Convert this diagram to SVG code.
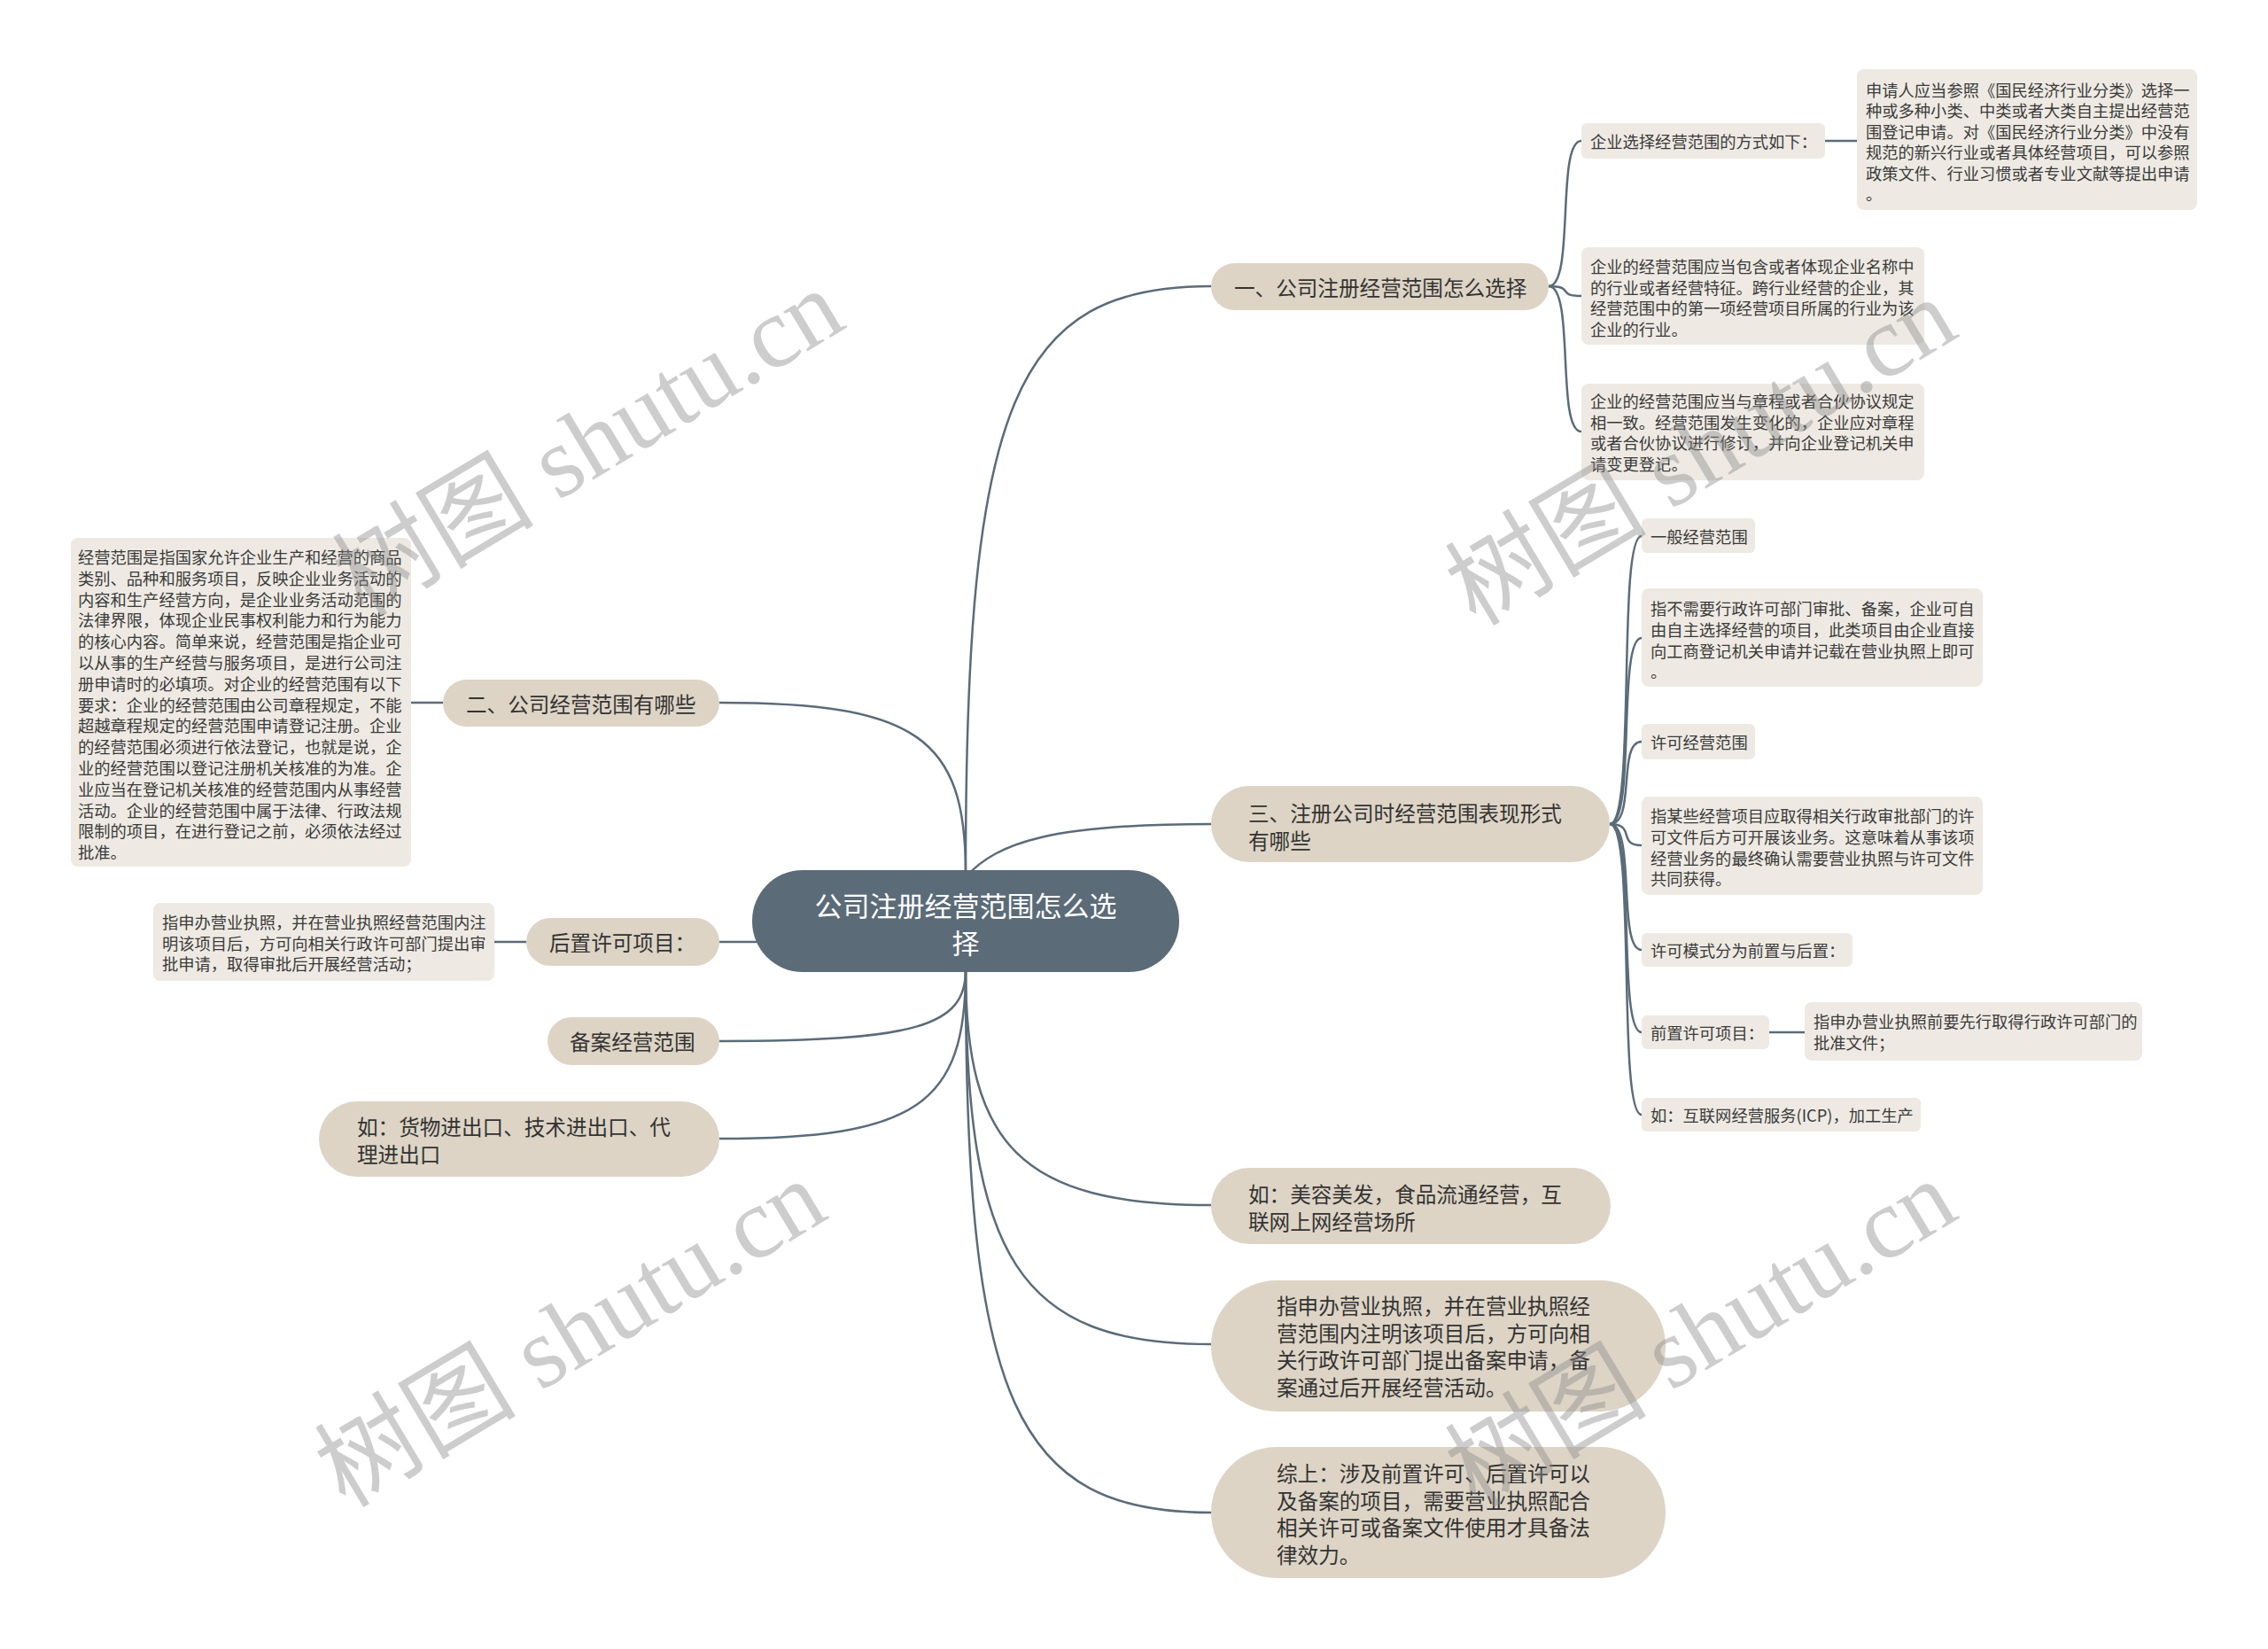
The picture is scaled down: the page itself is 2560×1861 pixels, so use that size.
<svg xmlns="http://www.w3.org/2000/svg" width="2560" height="1861" viewBox="0 0 2560 1861">
<style>
text { font-family: "Noto Sans CJK SC", "Liberation Sans", sans-serif; dominant-baseline: central; }
.l1 { fill: #ddd4c5; }
.l2 { fill: #eeeae3; }
.c0 { fill: #5b6b78; }
.t0 { font-size: 31px; fill: #ffffff; }
.t1 { font-size: 23.6px; fill: #333333; }
.t2 { font-size: 18.3px; fill: #3a3a3a; }
.conn path { fill: none; stroke: #5b6b78; stroke-width: 2.5; }
.wm { font-family: "Liberation Serif", "Noto Sans CJK SC", serif; font-size: 114px; fill: #8a8a8a; opacity: 0.42; }
</style>
<rect x="0" y="0" width="2560" height="1861" fill="#ffffff"/>

<g id="connectors" class="conn">
  <path d="M1090 985 C1090 455 1145 323 1367 323"/>
  <path d="M1090 990 C1125 950 1190 930 1367 930"/>
  <path d="M1090 1095 C1090 1290 1150 1360 1367 1360"/>
  <path d="M1090 1095 C1090 1420 1150 1517 1367 1517"/>
  <path d="M1090 1095 C1090 1580 1145 1707 1367 1707"/>
  <path d="M1090 985 C1090 832 1034 793 812 793"/>
  <path d="M812 1063 L870 1063"/>
  <path d="M1090 1095 C1090 1158 1034 1175 812 1175"/>
  <path d="M1090 1095 C1090 1247 1034 1285 812 1285"/>
  <path d="M1748 323 C1778 323 1756 159 1785 159"/>
  <path d="M1748 323 C1778 323 1756 334 1785 334"/>
  <path d="M1748 323 C1778 323 1756 487 1785 487"/>
  <path d="M2060 159 L2096 159"/>
  <path d="M1817 930 C1847 930 1825 605 1853 605"/>
  <path d="M1817 930 C1847 930 1825 720 1853 720"/>
  <path d="M1817 930 C1847 930 1825 837 1853 837"/>
  <path d="M1817 930 C1847 930 1825 954 1853 954"/>
  <path d="M1817 930 C1847 930 1825 1072 1853 1072"/>
  <path d="M1817 930 C1847 930 1825 1165 1853 1165"/>
  <path d="M1817 930 C1847 930 1825 1258 1853 1258"/>
  <path d="M1997 1165 L2037 1165"/>
  <path d="M464 793 L500 793"/>
  <path d="M558 1063 L594 1063"/>
</g>

<g id="root">
  <rect class="c0" x="849" y="982" width="482" height="115" rx="57"/>
  <text class="t0" x="1090" y="1020" text-anchor="middle">公司注册经营范围怎么选</text>
  <text class="t0" x="1090" y="1062" text-anchor="middle">择</text>
</g>

<g id="n1">
  <rect class="l1" x="1367" y="297" width="381" height="53" rx="26.5"/>
  <text class="t1" x="1393" y="323.5">一、公司注册经营范围怎么选择</text>
</g>
<g id="n1a">
  <rect class="l2" x="1785" y="139" width="275" height="40" rx="6"/>
  <text class="t2" x="1795" y="159">企业选择经营范围的方式如下：</text>
</g>
<g id="n1a1">
  <rect class="l2" x="2096" y="78" width="384" height="159" rx="8"/>
  <text class="t2" x="2106" y="101">申请人应当参照《国民经济行业分类》选择一</text>
  <text class="t2" x="2106" y="124.4">种或多种小类、中类或者大类自主提出经营范</text>
  <text class="t2" x="2106" y="147.8">围登记申请。对《国民经济行业分类》中没有</text>
  <text class="t2" x="2106" y="171.2">规范的新兴行业或者具体经营项目，可以参照</text>
  <text class="t2" x="2106" y="194.6">政策文件、行业习惯或者专业文献等提出申请</text>
  <text class="t2" x="2106" y="218">。</text>
</g>
<g id="n1b">
  <rect class="l2" x="1785" y="279" width="387" height="110" rx="8"/>
  <text class="t2" x="1795" y="300">企业的经营范围应当包含或者体现企业名称中</text>
  <text class="t2" x="1795" y="323.5">的行业或者经营特征。跨行业经营的企业，其</text>
  <text class="t2" x="1795" y="347">经营范围中的第一项经营项目所属的行业为该</text>
  <text class="t2" x="1795" y="370.5">企业的行业。</text>
</g>
<g id="n1c">
  <rect class="l2" x="1785" y="433" width="387" height="109" rx="8"/>
  <text class="t2" x="1795" y="452">企业的经营范围应当与章程或者合伙协议规定</text>
  <text class="t2" x="1795" y="475.5">相一致。经营范围发生变化的，企业应对章程</text>
  <text class="t2" x="1795" y="499">或者合伙协议进行修订，并向企业登记机关申</text>
  <text class="t2" x="1795" y="522.5">请变更登记。</text>
</g>

<g id="n3">
  <rect class="l1" x="1367" y="887" width="450" height="86" rx="43"/>
  <text class="t1" x="1409" y="917">三、注册公司时经营范围表现形式</text>
  <text class="t1" x="1409" y="948">有哪些</text>
</g>
<g id="n3a">
  <rect class="l2" x="1853" y="585" width="128" height="39" rx="6"/>
  <text class="t2" x="1863" y="605">一般经营范围</text>
</g>
<g id="n3b">
  <rect class="l2" x="1853" y="664" width="385" height="111" rx="8"/>
  <text class="t2" x="1863" y="686">指不需要行政许可部门审批、备案，企业可自</text>
  <text class="t2" x="1863" y="710">由自主选择经营的项目，此类项目由企业直接</text>
  <text class="t2" x="1863" y="733.5">向工商登记机关申请并记载在营业执照上即可</text>
  <text class="t2" x="1863" y="757">。</text>
</g>
<g id="n3c">
  <rect class="l2" x="1853" y="817" width="128" height="40" rx="6"/>
  <text class="t2" x="1863" y="837">许可经营范围</text>
</g>
<g id="n3d">
  <rect class="l2" x="1853" y="899" width="385" height="111" rx="8"/>
  <text class="t2" x="1863" y="920">指某些经营项目应取得相关行政审批部门的许</text>
  <text class="t2" x="1863" y="944">可文件后方可开展该业务。这意味着从事该项</text>
  <text class="t2" x="1863" y="967.5">经营业务的最终确认需要营业执照与许可文件</text>
  <text class="t2" x="1863" y="991">共同获得。</text>
</g>
<g id="n3e">
  <rect class="l2" x="1853" y="1053" width="238" height="38" rx="6"/>
  <text class="t2" x="1863" y="1072">许可模式分为前置与后置：</text>
</g>
<g id="n3f">
  <rect class="l2" x="1853" y="1146" width="144" height="38" rx="6"/>
  <text class="t2" x="1863" y="1165">前置许可项目：</text>
</g>
<g id="n3f1">
  <rect class="l2" x="2037" y="1131" width="381" height="66" rx="8"/>
  <text class="t2" x="2047" y="1152">指申办营业执照前要先行取得行政许可部门的</text>
  <text class="t2" x="2047" y="1176">批准文件；</text>
</g>
<g id="n3g">
  <rect class="l2" x="1853" y="1239" width="315" height="38" rx="6"/>
  <text class="t2" x="1863" y="1258">如：互联网经营服务(ICP)，加工生产</text>
</g>

<g id="n4">
  <rect class="l1" x="1367" y="1318" width="451" height="86" rx="43"/>
  <text class="t1" x="1409" y="1347">如：美容美发，食品流通经营，互</text>
  <text class="t1" x="1409" y="1378">联网上网经营场所</text>
</g>
<g id="n5">
  <rect class="l1" x="1367" y="1445" width="513" height="148" rx="74"/>
  <text class="t1" x="1441" y="1473">指申办营业执照，并在营业执照经</text>
  <text class="t1" x="1441" y="1503.5">营范围内注明该项目后，方可向相</text>
  <text class="t1" x="1441" y="1534">关行政许可部门提出备案申请，备</text>
  <text class="t1" x="1441" y="1564.5">案通过后开展经营活动。</text>
</g>
<g id="n6">
  <rect class="l1" x="1367" y="1633" width="513" height="148" rx="74"/>
  <text class="t1" x="1441" y="1662">综上：涉及前置许可、后置许可以</text>
  <text class="t1" x="1441" y="1692.5">及备案的项目，需要营业执照配合</text>
  <text class="t1" x="1441" y="1723">相关许可或备案文件使用才具备法</text>
  <text class="t1" x="1441" y="1753.5">律效力。</text>
</g>

<g id="n2">
  <rect class="l1" x="500" y="767" width="312" height="53" rx="26.5"/>
  <text class="t1" x="526" y="793.5">二、公司经营范围有哪些</text>
</g>
<g id="n2a">
  <rect class="l2" x="80" y="607" width="384" height="371" rx="8"/>
  <text class="t2" x="88" y="628">经营范围是指国家允许企业生产和经营的商品</text>
  <text class="t2" x="88" y="651.8">类别、品种和服务项目，反映企业业务活动的</text>
  <text class="t2" x="88" y="675.6">内容和生产经营方向，是企业业务活动范围的</text>
  <text class="t2" x="88" y="699.4">法律界限，体现企业民事权利能力和行为能力</text>
  <text class="t2" x="88" y="723.2">的核心内容。简单来说，经营范围是指企业可</text>
  <text class="t2" x="88" y="747">以从事的生产经营与服务项目，是进行公司注</text>
  <text class="t2" x="88" y="770.8">册申请时的必填项。对企业的经营范围有以下</text>
  <text class="t2" x="88" y="794.6">要求：企业的经营范围由公司章程规定，不能</text>
  <text class="t2" x="88" y="818.4">超越章程规定的经营范围申请登记注册。企业</text>
  <text class="t2" x="88" y="842.2">的经营范围必须进行依法登记，也就是说，企</text>
  <text class="t2" x="88" y="866">业的经营范围以登记注册机关核准的为准。企</text>
  <text class="t2" x="88" y="889.8">业应当在登记机关核准的经营范围内从事经营</text>
  <text class="t2" x="88" y="913.6">活动。企业的经营范围中属于法律、行政法规</text>
  <text class="t2" x="88" y="937.4">限制的项目，在进行登记之前，必须依法经过</text>
  <text class="t2" x="88" y="961.2">批准。</text>
</g>
<g id="nHou">
  <rect class="l1" x="594" y="1036" width="218" height="54" rx="27"/>
  <text class="t1" x="620" y="1063">后置许可项目：</text>
</g>
<g id="nHouC">
  <rect class="l2" x="173" y="1019" width="385" height="88" rx="8"/>
  <text class="t2" x="183" y="1040">指申办营业执照，并在营业执照经营范围内注</text>
  <text class="t2" x="183" y="1063.5">明该项目后，方可向相关行政许可部门提出审</text>
  <text class="t2" x="183" y="1087">批申请，取得审批后开展经营活动；</text>
</g>
<g id="nBei">
  <rect class="l1" x="618" y="1148" width="194" height="54" rx="27"/>
  <text class="t1" x="643" y="1175">备案经营范围</text>
</g>
<g id="nHuo">
  <rect class="l1" x="360" y="1243" width="452" height="85" rx="42.5"/>
  <text class="t1" x="403" y="1271">如：货物进出口、技术进出口、代</text>
  <text class="t1" x="403" y="1302">理进出口</text>
</g>

<g id="watermarks">
  <text class="wm" x="664" y="500" text-anchor="middle" transform="rotate(-31 664 500)">树图 shutu.cn</text>
  <text class="wm" x="1920" y="510" text-anchor="middle" transform="rotate(-31 1920 510)">树图 shutu.cn</text>
  <text class="wm" x="644" y="1505" text-anchor="middle" transform="rotate(-31 644 1505)">树图 shutu.cn</text>
  <text class="wm" x="1920" y="1505" text-anchor="middle" transform="rotate(-31 1920 1505)">树图 shutu.cn</text>
</g>
</svg>
